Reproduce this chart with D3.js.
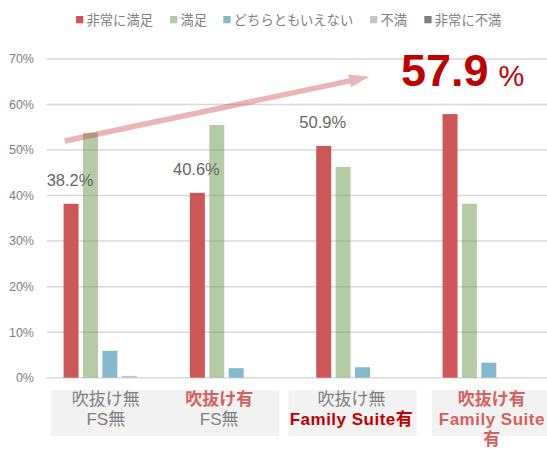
<!DOCTYPE html>
<html><head><meta charset="utf-8">
<script src="https://cdn.jsdelivr.net/npm/d3@7"></script>
<style>
html,body{margin:0;padding:0;background:#fff;}
svg{display:block;}
</style></head>
<body>
<svg id="chart" width="547" height="449"></svg>
<script>
const categories = ["c1","c2","c3","c4"];
const seriesNames = ["非常に満足","満足","どちらともいえない","不満","非常に不満"];
const seriesColors = ["#cd5656","#77a35a","#84b8cc","#c6c6c6","#7f7f7f"];
const verySatisfied = [38.2, 40.6, 50.9, 57.9];
const satisfied = [53.8, 55.5, 46.3, 38.2];
const neutral = [5.9, 2.1, 2.3, 3.3];
const dissatisfied = [0.4, 0, 0, 0];
const veryDissatisfied = [0, 0, 0, 0];
const yTicks = [0, 10, 20, 30, 40, 50, 60, 70];
const catLabels = [
  [{t:"吹抜け無", c:"#7f7f7f", w:400}, {t:"FS無", c:"#7f7f7f", w:400}],
  [{t:"吹抜け有", c:"#d65f5f", w:700}, {t:"FS無", c:"#7f7f7f", w:400}],
  [{t:"吹抜け無", c:"#7f7f7f", w:400}, {t:"Family Suite有", c:"#c00000", w:700}],
  [{t:"吹抜け有", c:"#d65f5f", w:700}, {t:"Family Suite", c:"#d65f5f", w:700}, {t:"有", c:"#d65f5f", w:700}]
];
const allSeries = [verySatisfied, satisfied, neutral, dissatisfied, veryDissatisfied];

const svg = d3.select("#chart");
const FONT = "'Liberation Sans', Arial, 'Noto Sans CJK JP', sans-serif";
const JFONT = "'Noto Sans CJK JP', sans-serif";

const x0 = d3.scaleBand().domain(categories).range([46.7, 552]);
const x1 = d3.scaleBand().domain(seriesNames).range([0, x0.bandwidth()])
  .paddingInner(0.227).paddingOuter(0.869);
const y = d3.scaleLinear().domain([0, 70]).range([377.7, 59]);

// gridlines
svg.append("g").selectAll("line").data(yTicks).join("line")
  .attr("x1", 46.7).attr("x2", 547)
  .attr("y1", d => y(d)).attr("y2", d => y(d))
  .attr("stroke", "#d9d9d9").attr("stroke-width", 1.5);

// y axis labels
svg.append("g").selectAll("text").data(yTicks).join("text")
  .attr("x", 34).attr("y", d => y(d)).attr("dy", "0.35em")
  .attr("text-anchor", "end")
  .attr("font-family", FONT).attr("font-size", 12.5).attr("fill", "#808080")
  .text(d => d + "%");

// bars
const rows = [];
allSeries.forEach((arr, si) => arr.forEach((v, ci) => rows.push({s: seriesNames[si], si, c: categories[ci], v})));
svg.append("g").selectAll("rect").data(rows.filter(r => r.v > 0)).join("rect")
  .attr("x", d => x0(d.c) + x1(d.s))
  .attr("width", x1.bandwidth())
  .attr("y", d => y(d.v))
  .attr("height", d => y(0) - y(d.v))
  .attr("fill", d => seriesColors[d.si])
  .attr("fill-opacity", d => d.si === 1 ? 0.55 : 1);

// data labels for first three groups
svg.append("g").selectAll("text").data(verySatisfied.slice(0, 3)).join("text")
  .attr("x", (d, i) => x0(categories[i]) + x1(seriesNames[0]) + x1.bandwidth() / 2 - 1)
  .attr("y", d => y(d) - 18)
  .attr("text-anchor", "middle")
  .attr("font-family", FONT).attr("font-size", 16.5).attr("fill", "#666666")
  .text(d => d.toFixed(1) + "%");

// arrow annotation
const ax1 = x0(categories[0]) + 18, ay1 = y(52);
const ax2 = 369.3, ay2 = y(66.1);
const ang = Math.atan2(ay2 - ay1, ax2 - ax1);
const headLen = 20, headW = 6.5;
const bx = ax2 - headLen * Math.cos(ang), by = ay2 - headLen * Math.sin(ang);
svg.append("line")
  .attr("x1", ax1).attr("y1", ay1).attr("x2", bx).attr("y2", by)
  .attr("stroke", "rgba(200,60,60,0.38)").attr("stroke-width", 5.5);
const px = -Math.sin(ang), py = Math.cos(ang);
svg.append("path")
  .attr("d", `M${ax2},${ay2} L${bx + px * headW},${by + py * headW} L${bx - px * headW},${by - py * headW} Z`)
  .attr("fill", "rgba(200,60,60,0.38)");

// big highlight label
const big = svg.append("text").attr("x", 401).attr("y", 86)
  .attr("font-family", FONT).attr("fill", "#c00000");
big.append("tspan").attr("font-size", 45).attr("font-weight", 700).text(verySatisfied[3].toFixed(1));
big.append("tspan").attr("font-size", 29).attr("dx", 10).text("%");

// legend
const legendX = [76, 170, 223.3, 370, 424.3];
const lg = svg.append("g").selectAll("g").data(seriesNames).join("g")
  .attr("transform", (d, i) => `translate(${legendX[i]},16)`);
lg.append("rect").attr("width", 7.3).attr("height", 7.3).attr("fill", (d, i) => seriesColors[i])
  .attr("fill-opacity", (d, i) => i === 1 ? 0.55 : 1);
lg.append("text").attr("x", 10.5).attr("y", 3.7).attr("dy", "0.36em")
  .attr("font-family", JFONT).attr("font-size", 13.3).attr("fill", "#808080")
  .text(d => d);

// category label boxes
const boxes = [[51, 279.3], [288.3, 416.7], [431.7, 547]];
svg.append("g").selectAll("rect").data(boxes).join("rect")
  .attr("x", d => d[0]).attr("width", d => d[1] - d[0])
  .attr("y", 390).attr("height", 46).attr("fill", "#f2f2f2");
const labelCx = [x0(categories[0]) + x0.bandwidth() / 2 - 4,
                 x0(categories[1]) + x0.bandwidth() / 2 - 17,
                 x0(categories[2]) + x0.bandwidth() / 2 - 11,
                 x0(categories[3]) + x0.bandwidth() / 2 + 3];
const cl = svg.append("g").selectAll("text").data(catLabels).join("text")
  .attr("text-anchor", "middle")
  .attr("font-family", FONT).attr("font-size", 17);
cl.each(function(lines, i) {
  d3.select(this).selectAll("tspan").data(lines).join("tspan")
    .attr("x", labelCx[i])
    .attr("y", (d, j) => 404.5 + j * 20.3)
    .attr("fill", d => d.c).attr("font-weight", d => d.w)
    .attr("letter-spacing", d => d.t.startsWith("Family") ? 0.5 : 0)
    .text(d => d.t);
});
</script>
</body></html>
